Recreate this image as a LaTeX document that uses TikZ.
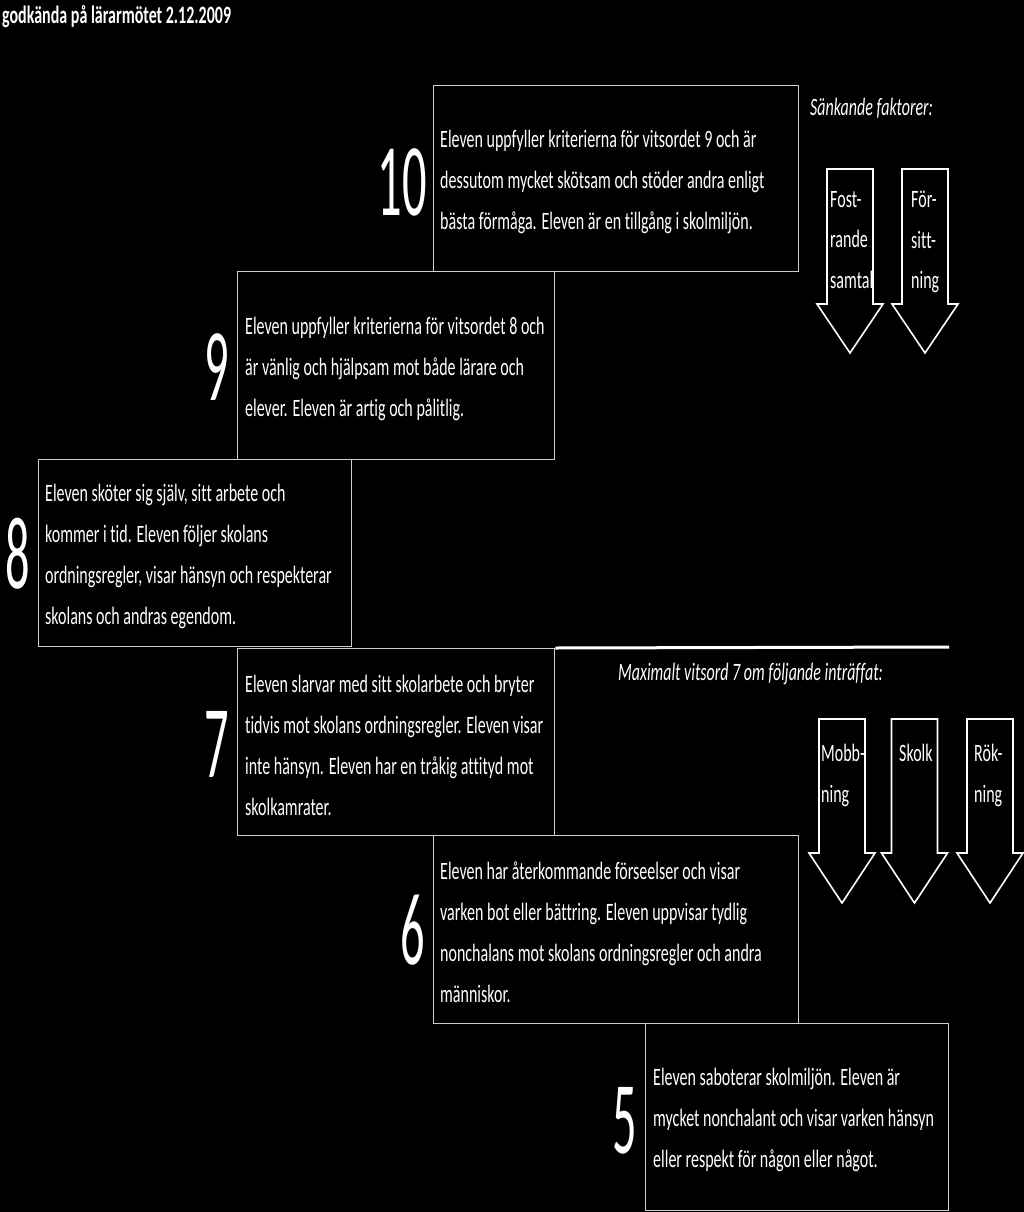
\documentclass[tikz,border=0pt]{standalone}
\usepackage{fontspec}
\setmainfont{Carlito}[FakeStretch=0.64, Ligatures=NoCommon]
\newfontfamily\gradefont{Carlito}[FakeStretch=0.47]
\newcommand\mybodyfont{\fontsize{25}{41}\selectfont}
\definecolor{lineg}{RGB}{205,205,205}
\tikzset{
  gbox/.style={draw=lineg, line width=1.3pt, fill=black, anchor=north west, inner sep=0pt},
  gtext/.style={text=white, align=left, anchor=west, inner sep=0pt, font=\mybodyfont},
  gnum/.style={text=white, inner sep=0pt, font=\gradefont\fontsize{103}{103}\selectfont},
  arrowtext/.style={text=white, align=left, anchor=north west, inner sep=0pt, font=\fontsize{25}{40.5}\selectfont},
  head/.style={text=white, anchor=west, inner sep=0pt, font=\itshape\fontsize{25}{28}\selectfont},
  darrow/.style={draw=white, line width=1.6pt, line join=miter},
  thickline/.style={draw=white, line width=3pt}
}
\begin{document}
\begin{tikzpicture}[x=1pt, y=-1pt]
\useasboundingbox (0,0) rectangle (1024,1212);
\fill[black] (0,0) rectangle (1024,1212);

\node[text=white, anchor=west, inner sep=0pt, font=\bfseries\fontsize{25}{28}\selectfont] (title) at (2,17) {godkända på lärarmötet 2.12.2009};

% boxes
\node[gbox, minimum width=365pt, minimum height=186pt] (b10) at (433,85) {};
\node[gbox, minimum width=317pt, minimum height=188pt] (b9) at (237,271) {};
\node[gbox, minimum width=313pt, minimum height=187pt] (b8) at (38,459) {};
\node[gbox, minimum width=317pt, minimum height=187pt] (b7) at (237,648) {};
\node[gbox, minimum width=365pt, minimum height=188pt] (b6) at (433,835) {};
\node[gbox, minimum width=303pt, minimum height=187pt] (b5) at (645,1023) {};

\coordinate (lineend) at (949,647);
\draw[thickline] (b7.north east) -- (lineend);

% box texts
\node[gtext] (t10) at ([xshift=7pt,yshift=-3pt]b10.west) {Eleven uppfyller kriterierna för vitsordet 9 och är\\dessutom mycket skötsam och stöder andra enligt\\bästa förmåga. Eleven är en tillgång i skolmiljön.};
\node[gtext] (t9) at ([xshift=8pt,yshift=-3pt]b9.west) {Eleven uppfyller kriterierna för vitsordet 8 och\\är vänlig och hjälpsam mot både lärare och\\elever. Eleven är artig och pålitlig.};
\node[gtext] (t8) at ([xshift=7pt,yshift=-3pt]b8.west) {Eleven sköter sig själv, sitt arbete och\\kommer i tid. Eleven följer skolans\\ordningsregler, visar hänsyn och respekterar\\skolans och andras egendom.};
\node[gtext] (t7) at ([xshift=8pt,yshift=-3pt]b7.west) {Eleven slarvar med sitt skolarbete och bryter\\tidvis mot skolans ordningsregler. Eleven visar\\inte hänsyn. Eleven har en tråkig attityd mot\\skolkamrater.};
\node[gtext] (t6) at ([xshift=7pt,yshift=-3pt]b6.west) {Eleven har återkommande förseelser och visar\\varken bot eller bättring. Eleven uppvisar tydlig\\nonchalans mot skolans ordningsregler och andra\\människor.};
\node[gtext] (t5) at ([xshift=8pt,yshift=-3pt]b5.west) {Eleven saboterar skolmiljön. Eleven är\\mycket nonchalant och visar varken hänsyn\\eller respekt för någon eller något.};

% grade numbers
\node[gnum] (n10) at (402,182) {10};
\node[gnum] (n9) at (217,367) {9};
\node[gnum] (n8) at (18,554) {8};
\node[gnum] (n7) at (217,744) {7};
\node[gnum] (n6) at (413,930) {6};
\node[gnum] (n5) at (625,1121) {5};

% headers
\node[head] (h1) at (810,108) {Sänkande faktorer:};
\node[head] (h2) at (618,674) {Maximalt vitsord 7 om följande inträffat:};

% arrows
\foreach \cx/\top/\base/\tip in {850/169/304/353, 925/169/304/353, 842/719/853/903, 914.5/719/853/903, 990/719/853/903}{
  \draw[darrow] (\cx-23,\top) -- (\cx+23,\top) -- (\cx+23,\base) -- (\cx+33,\base) -- (\cx,\tip) -- (\cx-33,\base) -- (\cx-23,\base) -- cycle;
}

\node[arrowtext] (a1) at (830,191) {Fost-\\rande\\samtal};
\node[arrowtext] (a2) at (911,191) {För-\\sitt-\\ning};
\node[arrowtext] (a3) at (821,744) {Mobb-\\ning};
\node[arrowtext] (a4) at (899,744) {Skolk};
\node[arrowtext] (a5) at (974,744) {Rök-\\ning};
\end{tikzpicture}
\end{document}
